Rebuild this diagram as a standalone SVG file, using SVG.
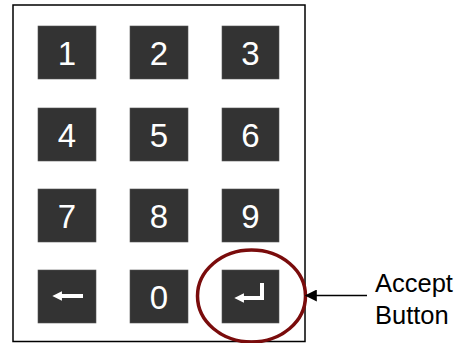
<svg xmlns="http://www.w3.org/2000/svg" width="470" height="343" viewBox="0 0 470 343">
  <style>
    .key rect { fill: #333333; stroke: #555555; stroke-width: 0.6; }
    .key text { fill: #ffffff; font-family: "Liberation Sans", Arial, sans-serif; font-size: 33px; text-anchor: middle; }
    .glyph { stroke: #ffffff; stroke-width: 4; fill: none; }
    .label { fill: #000000; font-family: "Liberation Sans", Arial, sans-serif; font-size: 25.5px; }
  </style>
  <defs>
    <marker id="whiteHead" viewBox="0 0 10 10" refX="2" refY="5" markerWidth="2.5" markerHeight="2.4" orient="auto-start-reverse" markerUnits="strokeWidth">
      <path d="M0,0 L10,5 L0,10 Z" fill="#ffffff"/>
    </marker>
    <marker id="blackHead" viewBox="0 0 10 10" refX="9" refY="5" markerWidth="14" markerHeight="12" orient="auto" markerUnits="userSpaceOnUse">
      <path d="M0,0 L10,5 L0,10 Z" fill="#000000"/>
    </marker>
  </defs>

  <!-- keypad frame -->
  <rect id="frame" x="13" y="5" width="292" height="336.5" fill="#ffffff" stroke="#000000" stroke-width="1.5"/>

  <!-- row 1 -->
  <g id="key-1" class="key"><rect x="38" y="26" width="58" height="53"/><text x="67" y="65">1</text></g>
  <g id="key-2" class="key"><rect x="130" y="26" width="58" height="53"/><text x="159" y="65">2</text></g>
  <g id="key-3" class="key"><rect x="222" y="26" width="57" height="53"/><text x="250.5" y="65">3</text></g>
  <!-- row 2 -->
  <g id="key-4" class="key"><rect x="38" y="108" width="58" height="53"/><text x="67" y="147">4</text></g>
  <g id="key-5" class="key"><rect x="130" y="108" width="58" height="53"/><text x="159" y="147">5</text></g>
  <g id="key-6" class="key"><rect x="222" y="108" width="57" height="53"/><text x="250.5" y="147">6</text></g>
  <!-- row 3 -->
  <g id="key-7" class="key"><rect x="38" y="189" width="58" height="53"/><text x="67" y="228">7</text></g>
  <g id="key-8" class="key"><rect x="130" y="189" width="58" height="53"/><text x="159" y="228">8</text></g>
  <g id="key-9" class="key"><rect x="222" y="189" width="57" height="53"/><text x="250.5" y="228">9</text></g>
  <!-- row 4 -->
  <g id="key-back" class="key">
    <rect x="38" y="270" width="58" height="53"/>
    <path class="glyph" d="M83,296 H60" marker-end="url(#whiteHead)"/>
  </g>
  <g id="key-0" class="key"><rect x="130" y="270" width="58" height="53"/><text x="159" y="309">0</text></g>
  <g id="key-enter" class="key">
    <rect x="222" y="270" width="57" height="53"/>
    <path class="glyph" d="M262,283 V298 H242" marker-end="url(#whiteHead)"/>
  </g>

  <!-- highlight ring around the enter key -->
  <g id="highlight">
    <ellipse cx="251.5" cy="296" rx="54" ry="46" fill="none" stroke="#7a0c0c" stroke-width="3.5"/>
  </g>

  <!-- callout -->
  <g id="connectors">
    <line x1="367" y1="295.5" x2="306" y2="295.5" stroke="#000000" stroke-width="1.5" marker-end="url(#blackHead)"/>
  </g>
  <g id="callout-label">
    <text class="label" x="375" y="292">Accept</text>
    <text class="label" x="375" y="324">Button</text>
  </g>
</svg>
